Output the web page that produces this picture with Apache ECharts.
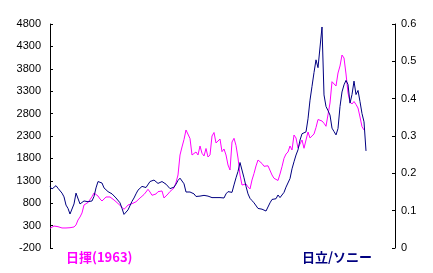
<!DOCTYPE html>
<html><head><meta charset="utf-8">
<script src="https://cdn.jsdelivr.net/npm/echarts@6/dist/echarts.min.js"></script>
<style>html,body{margin:0;padding:0;background:#fff}#c{width:433px;height:273px}</style>
</head><body><div id="c"></div>
<script>
// 日揮 (1963) price, left axis, one value per week-like step
const jgc = [240,269,291,291,276,265,247,240,247,269,253,258,269,314,425,492,582,760,794,816,
849,945,1028,994,961,894,849,883,939,945,939,916,872,838,794,756,709,664,709,760,
782,789,816,832,872,916,945,994,1050,1110,1050,977,950,1006,1057,1088,1073,916,939,1006,
1061,1084,1140,1262,1430,1876,2055,2222,2434,2472,2244,1876,1838,1943,1876,2077,1914,1854,2021,1831,
1876,2300,2378,2144,2173,2233,1950,2010,1876,1653,1541,2166,2249,2088,1809,1430,1206,1240,1229,1162,
1117,1318,1463,1631,1764,1764,1686,1624,1648,1635,1597,1430,1356,1329,1307,1452,1615,1802,1898,1943,
2077,1988,2322,2256,2032,2010,2211,2026,2211,2389,2256,2222,2345,2490,2668,2691,2635,2584,2517,2523,
3037,3512,3505,3416,3706,3863,4108,4041,3684,3260,3059,3014,3070,3003,2925,2724,2508,2434];
// 日立/ソニー ratio, right axis
const ratio = [0.164,0.158,0.158,0.167,0.160,0.157,0.147,0.137,0.115,0.106,0.091,0.091,0.118,0.147,0.142,0.118,0.115,0.126,0.128,0.124,
0.127,0.126,0.138,0.161,0.178,0.181,0.174,0.161,0.159,0.151,0.148,0.145,0.141,0.134,0.129,0.121,0.106,0.090,0.092,0.102,
0.102,0.125,0.134,0.145,0.155,0.159,0.165,0.167,0.162,0.161,0.178,0.182,0.182,0.178,0.173,0.178,0.178,0.175,0.171,0.166,
0.159,0.157,0.163,0.171,0.181,0.187,0.183,0.172,0.150,0.147,0.150,0.147,0.145,0.138,0.141,0.139,0.140,0.141,0.139,0.139,
0.137,0.135,0.135,0.135,0.137,0.135,0.132,0.134,0.145,0.151,0.147,0.149,0.169,0.188,0.205,0.229,0.232,0.188,0.165,0.145,
0.133,0.127,0.121,0.120,0.106,0.106,0.104,0.102,0.099,0.099,0.121,0.130,0.130,0.132,0.142,0.135,0.138,0.149,0.163,0.161,
0.186,0.212,0.231,0.249,0.263,0.289,0.306,0.307,0.311,0.346,0.396,0.433,0.470,0.504,0.483,0.482,0.592,0.410,0.379,0.368,
0.356,0.321,0.312,0.303,0.320,0.379,0.418,0.437,0.449,0.438,0.388,0.411,0.447,0.411,0.422,0.392,0.360,0.338,0.260];
const xSpan = 172.5;
const leftTicks = {min:-200, max:4800, interval:500};
const rightTicks = {min:0, max:0.6, interval:0.1};
const legendLeft = '日揮(1963)';
const legendRight = '日立/ソニー';

const chart = echarts.init(document.getElementById('c'), null, {renderer:'canvas'});
const axisFont = {fontFamily:'Liberation Sans', fontSize:11, color:'#000'};
chart.setOption({
  animation:false,
  backgroundColor:'#fff',
  grid:{left:50, right:38, top:24, bottom:25},
  title:[
    {text:legendLeft, left:61, top:246, textStyle:{color:'#ff00ff', fontSize:13, fontWeight:'bold', fontFamily:'Noto Sans CJK JP'}},
    {text:legendRight, left:297, top:246, textStyle:{color:'#000080', fontSize:13, fontWeight:'bold', fontFamily:'Noto Sans CJK JP'}}
  ],
  xAxis:{type:'value', min:0, max:xSpan, show:false},
  yAxis:[
    {type:'value', position:'left', min:leftTicks.min, max:leftTicks.max, interval:leftTicks.interval,
     axisLine:{show:true, lineStyle:{color:'#000', width:1}},
     axisTick:{show:true, inside:true, length:3, lineStyle:{color:'#000'}},
     axisLabel:Object.assign({margin:9, formatter:v=>String(v)}, axisFont),
     splitLine:{show:false}},
    {type:'value', position:'right', min:rightTicks.min, max:rightTicks.max, interval:rightTicks.interval,
     axisLine:{show:true, lineStyle:{color:'#000', width:1}},
     axisTick:{show:true, inside:true, length:3, lineStyle:{color:'#000'}},
     axisLabel:Object.assign({margin:6, formatter:v=>String(+v.toFixed(1))}, axisFont),
     splitLine:{show:false}}
  ],
  series:[
    {type:'line', yAxisIndex:0, data:jgc.map((v,i)=>[i,v]), symbol:'none', lineStyle:{color:'#ff00ff', width:1}},
    {type:'line', yAxisIndex:1, data:ratio.map((v,i)=>[i,v]), symbol:'none', lineStyle:{color:'#000080', width:1}}
  ]
});
</script></body></html>
